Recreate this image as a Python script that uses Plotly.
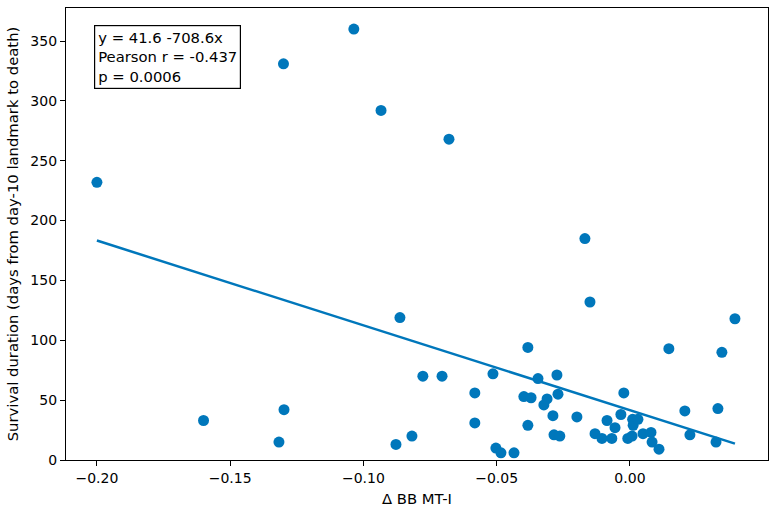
import numpy as np
import plotly.graph_objects as go

delta_bb = [-0.200, -0.160, -0.1317, -0.1298, -0.1300, -0.1036, -0.0934, -0.0878, -0.0863, -0.0818,
            -0.0777, -0.0705, -0.0679, -0.0582, -0.0582, -0.0514, -0.0503, -0.0484, -0.0435, -0.0398,
            -0.0383, -0.0383, -0.0371, -0.0345, -0.0323, -0.0311, -0.0289, -0.0285, -0.0274, -0.0270,
            -0.0263, -0.0199, -0.0169, -0.0150, -0.0131, -0.0105, -0.0086, -0.0068, -0.0056, -0.0034,
            -0.0023, -0.0008, 0.0008, 0.0010, 0.0012, 0.0030, 0.0049, 0.0079, 0.0083, 0.0109,
            0.0146, 0.0206, 0.0225, 0.0323, 0.0330, 0.0345, 0.0394]
survival = [232, 33, 15, 42, 331, 360, 292, 13, 119, 20,
            70, 70, 268, 56, 31, 72, 10, 6, 6, 53,
            94, 29, 52, 68, 46, 51, 37, 21, 71, 55,
            20, 36, 185, 132, 22, 18, 33, 18, 27, 38,
            56, 18, 20, 34, 29, 34, 22, 23, 15, 9,
            93, 41, 21, 15, 43, 90, 118]

intercept = 41.6
slope = -708.6
pearson_r = -0.437
p_value = 0.0006

x_ticks = [-0.20, -0.15, -0.10, -0.05, 0.00]
y_ticks = [0, 50, 100, 150, 200, 250, 300, 350]

color = "#0077BB"
font = "DejaVu Sans"

x_line = np.array([min(delta_bb), max(delta_bb)])
y_line = intercept + slope * x_line

fig = go.Figure()
fig.add_trace(go.Scatter(x=delta_bb, y=survival, mode="markers",
                         marker=dict(color=color, size=11, line=dict(width=0)),
                         showlegend=False))
fig.add_trace(go.Scatter(x=x_line, y=y_line, mode="lines",
                         line=dict(color=color, width=2.5), showlegend=False))

fig.add_annotation(xref="paper", yref="paper", x=0.04, y=0.962,
                   xanchor="left", yanchor="top", align="left", showarrow=False,
                   text=f"y = {intercept} {slope}x<br>Pearson r = {pearson_r}<br>p = {p_value}",
                   font=dict(family=font, size=14.8, color="black"),
                   bordercolor="black", borderwidth=1.2, borderpad=3, bgcolor="white")

axis_common = dict(showline=True, linecolor="black", linewidth=1.2, mirror=True,
                   ticks="outside", ticklen=5, tickwidth=1.2, tickcolor="black", showgrid=False,
                   zeroline=False, tickfont=dict(family=font, size=14, color="black"))

fig.update_layout(
    width=776, height=513,
    margin=dict(l=66, r=8, t=8, b=53),
    paper_bgcolor="white", plot_bgcolor="white",
    font=dict(family=font, size=14, color="black"),
    xaxis=dict(range=[-0.2116, 0.0518], tickvals=x_ticks, tickformat=".2f",
               title=dict(text="Δ BB MT-I", font=dict(family=font, size=14.8), standoff=8),
               **axis_common),
    yaxis=dict(range=[0, 377.6], tickvals=y_ticks,
               title=dict(text="Survival duration (days from day-10 landmark to death)",
                          font=dict(family=font, size=14.8), standoff=8),
               **axis_common),
)

fig.write_html("out.html")
